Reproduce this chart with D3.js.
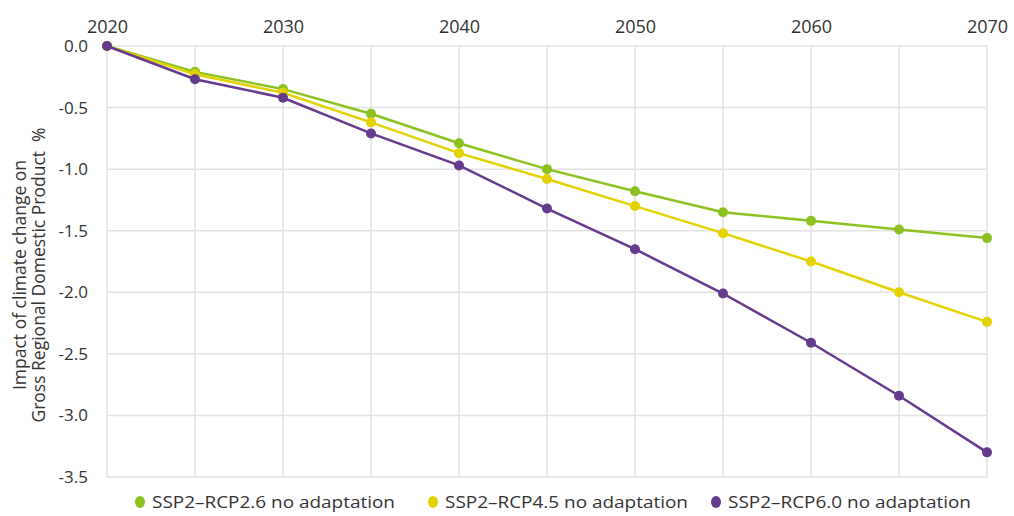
<!DOCTYPE html>
<html>
<head>
<meta charset="utf-8">
<script src="https://cdn.jsdelivr.net/npm/d3@7"></script>
<style>
  body { margin: 0; background: #fff; }
  svg text { font-family: "Open Sans", sans-serif; fill: #333; }
</style>
</head>
<body>
<div id="chart"></div>
<script>
// chart data
var years = [2020, 2025, 2030, 2035, 2040, 2045, 2050, 2055, 2060, 2065, 2070];
var rcp26 = [0, -0.21, -0.35, -0.55, -0.79, -1.0, -1.18, -1.35, -1.42, -1.49, -1.56];
var rcp45 = [0, -0.23, -0.38, -0.62, -0.87, -1.08, -1.30, -1.52, -1.75, -2.0, -2.24];
var rcp60 = [0, -0.27, -0.42, -0.71, -0.97, -1.32, -1.65, -2.01, -2.41, -2.84, -3.30];
var seriesNames = ["SSP2\u2013RCP2.6 no adaptation", "SSP2\u2013RCP4.5 no adaptation", "SSP2\u2013RCP6.0 no adaptation"];
var xTicks = [2020, 2030, 2040, 2050, 2060, 2070];
var yTicks = [0, -0.5, -1.0, -1.5, -2.0, -2.5, -3.0, -3.5];

var colors = ["#8cc11f", "#e3d200", "#663a8c"];
var seriesValues = [rcp26, rcp45, rcp60];

var margin = {top: 46, right: 27, bottom: 39, left: 107};
var width = 1014 - margin.left - margin.right;
var height = 516 - margin.top - margin.bottom;

var svg = d3.select("#chart").append("svg")
    .attr("width", 1014)
    .attr("height", 516);

var g = svg.append("g")
    .attr("transform", "translate(" + margin.left + "," + margin.top + ")");

var x = d3.scaleLinear().domain([2020, 2070]).range([0, width]);
var y = d3.scaleLinear().domain([0, -3.5]).range([0, height]);

// grid
g.selectAll(".vgrid").data(years).enter().append("line")
    .attr("x1", function (d) { return x(d); })
    .attr("x2", function (d) { return x(d); })
    .attr("y1", 0).attr("y2", height)
    .attr("stroke", "#e2e2e2").attr("stroke-width", 1.5);

g.selectAll(".hgrid").data(yTicks).enter().append("line")
    .attr("x1", 0).attr("x2", width)
    .attr("y1", function (d) { return y(d); })
    .attr("y2", function (d) { return y(d); })
    .attr("stroke", "#e2e2e2").attr("stroke-width", 1.5);

// axes
var xAxis = d3.axisTop(x).tickValues(xTicks).tickFormat(d3.format("d")).tickSize(0).tickPadding(13);
var yAxis = d3.axisLeft(y).tickValues(yTicks).tickSize(0).tickPadding(19);

g.append("g").attr("class", "x-axis").call(xAxis)
    .call(function (a) { a.select(".domain").remove(); })
    .selectAll("text").style("font-size", "18px").attr("fill", "#333");

g.append("g").attr("class", "y-axis").call(yAxis)
    .call(function (a) { a.select(".domain").remove(); })
    .selectAll("text").style("font-size", "17px").attr("fill", "#333")
    .text(function (d) { return d.toFixed(1); });

// y axis title
var title = svg.append("text")
    .attr("transform", "translate(26,275) rotate(-90)")
    .attr("text-anchor", "middle")
    .style("font-size", "17.5px");
title.append("tspan").attr("x", 0).attr("dy", 0).text("Impact of climate change on");
title.append("tspan").attr("x", 0).attr("dy", 19).text("Gross Regional Domestic Product\u00a0\u00a0%");

// lines
var line = d3.line()
    .x(function (d, i) { return x(years[i]); })
    .y(function (d) { return y(d); });

seriesValues.forEach(function (vals, s) {
    g.append("path")
        .datum(vals)
        .attr("fill", "none")
        .attr("stroke", colors[s])
        .attr("stroke-width", 2.5)
        .attr("d", line);

    g.selectAll(".dot" + s).data(vals).enter().append("circle")
        .attr("cx", function (d, i) { return x(years[i]); })
        .attr("cy", function (d) { return y(d); })
        .attr("r", 5)
        .attr("fill", colors[s]);
});

// legend
var legendX = [140, 433, 716];
var legend = svg.append("g").attr("class", "legend");
seriesNames.forEach(function (name, s) {
    legend.append("ellipse")
        .attr("cx", legendX[s]).attr("cy", 502)
        .attr("rx", 5).attr("ry", 6)
        .attr("fill", colors[s]);
    legend.append("text")
        .attr("x", legendX[s] + 12).attr("y", 508)
        .attr("textLength", 243)
        .attr("lengthAdjust", "spacingAndGlyphs")
        .style("font-size", "17px")
        .text(name);
});
</script>
</body>
</html>
